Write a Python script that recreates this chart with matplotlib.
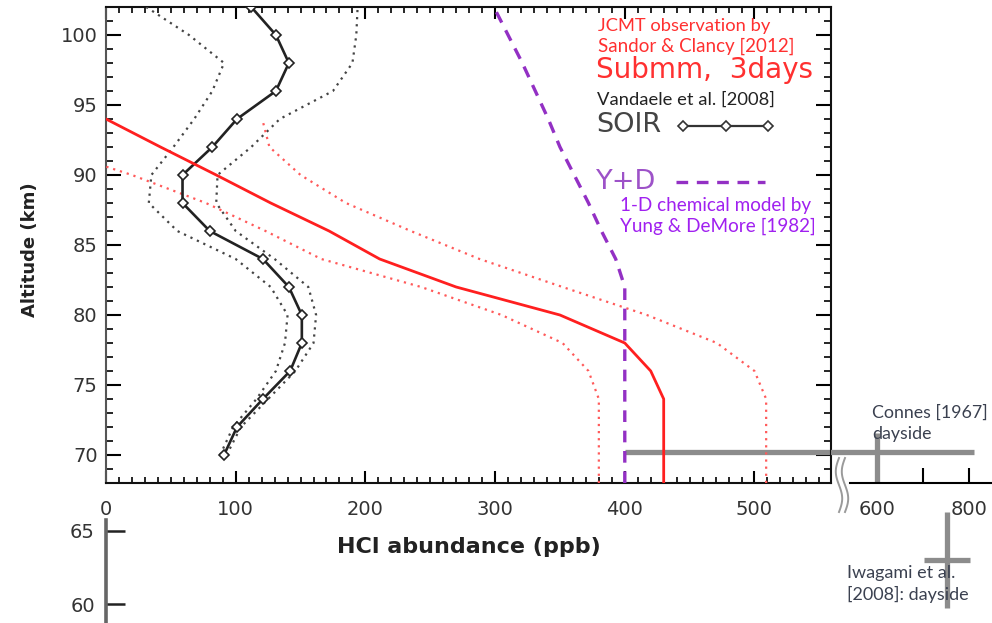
import numpy as np
import matplotlib
matplotlib.use('Agg')
import matplotlib.pyplot as plt
from matplotlib.lines import Line2D
from matplotlib.ticker import MultipleLocator, FixedLocator

# ---------------- data ----------------
soir_alt  = [70, 72, 74, 76, 78, 80, 82, 84, 86, 88, 90, 92, 94, 96, 98, 100, 102]
soir_hcl  = [91, 101, 121, 142, 151, 151, 141, 121, 80, 59, 59, 82, 101, 131, 141, 131, 112]
soir_low  = [88, 98, 116, 131, 138, 140, 127, 100, 55, 33, 35, 52, 68, 82, 91, 64, 31]
soir_high = [93, 104, 125, 146, 160, 162, 156, 130, 100, 85, 86, 112, 134, 175, 190, 193, 194]

submm_alt = [68, 74, 76, 78, 80, 82, 84, 86, 88, 90, 92, 94]
submm_hcl = [430, 430, 420, 400, 350, 270, 211, 172, 127, 85, 42, 0]
submm_low_alt = [68, 74, 76, 78, 80, 82, 84, 86, 88, 90, 90.6]
submm_low = [380, 380, 372, 352, 305, 243, 166, 123, 77, 20, 0]
submm_high_alt = [68, 74, 76, 78, 80, 82, 84, 86, 88, 90, 92, 93.8]
submm_high = [509, 509, 500, 471, 417, 352, 288, 235, 185, 150, 126, 121]

yd_alt = [68, 82, 84, 86, 88, 90, 92, 94, 96, 98, 100, 102]
yd_hcl = [400, 400, 393, 382, 372, 361, 350, 341, 331, 321, 310, 299]

connes_hcl = 600
connes_alt = 70.2
connes_hcl_range = [400, 810]
connes_alt_range = [68, 71.6]

iwagami_hcl = 752
iwagami_alt = 63.0
iwagami_hcl_range = [702, 802]
iwagami_alt_range = [59.7, 66.3]

x_major = [0, 100, 200, 300, 400, 500]
x_ext_ticks = [600, 700, 800]
x_ext_labels = ['600', '', '800']
y_major = [70, 75, 80, 85, 90, 95, 100]
y_low_ticks = [60, 65]

# ---------------- figure ----------------
W, H = 992, 623
fig = plt.figure(figsize=(W / 100, H / 100), dpi=100)
fig.patch.set_facecolor('white')


def fx(px):
    return px / W


def fy(py):
    return 1 - py / H


def box(x0, y0, x1, y1):
    return [fx(x0), fy(y1), fx(x1) - fx(x0), fy(y0) - fy(y1)]


RED = '#ff1f1f'
RED_L = '#ff5a5a'
PURPLE = '#9330c4'
GRAY = '#8c8c8c'
TXT = '#333333'

ax = fig.add_axes(box(106, 7, 831, 483))
ax.set_xlim(0, 559)
ax.set_ylim(68, 102)

# SOIR
ax.plot(soir_low, soir_alt, color='#444444', lw=1.6, ls=(0, (1, 2.2)), zorder=3)
ax.plot(soir_high, soir_alt, color='#444444', lw=1.6, ls=(0, (1, 2.2)), zorder=3)
ax.plot(soir_hcl, soir_alt, color='#222222', lw=1.9, marker='D', ms=5,
        mfc='white', mec='#222222', mew=1.2, zorder=4)

# Submm
ax.plot(submm_low, submm_low_alt, color=RED_L, lw=1.6, ls=(0, (1, 2.2)), zorder=3)
ax.plot(submm_high, submm_high_alt, color=RED_L, lw=1.6, ls=(0, (1, 2.2)), zorder=3)
ax.plot(submm_hcl, submm_alt, color=RED, lw=2.0, zorder=4)

# Y+D model
ax.plot(yd_hcl, yd_alt, color=PURPLE, lw=2.4, ls=(0, (3.5, 2.6)), zorder=3)

# Connes (part inside main axes)
ax.plot(connes_hcl_range, [connes_alt, connes_alt], color=GRAY, lw=3.8,
        solid_capstyle='butt', zorder=2)

ax.xaxis.set_major_locator(FixedLocator(x_major))
ax.xaxis.set_minor_locator(MultipleLocator(10))
ax.yaxis.set_major_locator(FixedLocator(y_major))
ax.yaxis.set_minor_locator(MultipleLocator(1))
ax.tick_params(which='both', direction='in', top=True, right=True,
               labeltop=False, labelright=False, colors='black', labelcolor=TXT)
ax.tick_params(axis='x', which='major', length=8.5, width=1.5, labelsize=14, pad=12)
ax.tick_params(axis='x', which='minor', length=4, width=1.2)
ax.tick_params(axis='y', which='major', length=11, width=1.5, labelsize=14, pad=6)
ax.tick_params(axis='y', which='minor', length=5, width=1.2)
for s in ax.spines.values():
    s.set_linewidth(1.5)
    s.set_color('#111111')
ax.spines['left'].set_color('#555555')

ax.set_xlabel('HCl abundance (ppb)', fontsize=16, fontweight='bold', color='#222222')
ax.xaxis.set_label_coords(0.5, (483 - 547) / 476)
ax.xaxis.label.set_va('center')
ax.set_ylabel('Altitude (km)', fontsize=13, fontweight='bold', color='#222222')
ax.yaxis.set_label_coords((30 - 106) / 725, (483 - 250) / 476)
ax.yaxis.label.set_va('center')

# ---------------- broken extension axis (600-800 ppb) ----------------
axb = fig.add_axes(box(831, 7, 992, 483))
axb.set_xlim(500, 850)
axb.set_ylim(68, 102)
axb.patch.set_visible(False)
for k in ['top', 'left', 'right']:
    axb.spines[k].set_visible(False)
axb.spines['bottom'].set_bounds(541, 850)
axb.spines['bottom'].set_linewidth(1.5)
axb.set_yticks([])
axb.set_xticks(x_ext_ticks)
axb.set_xticklabels(x_ext_labels)
axb.tick_params(axis='x', direction='in', length=11, width=1.5, labelsize=14,
                pad=12, labelcolor=TXT)
axb.plot(connes_hcl_range, [connes_alt, connes_alt], color=GRAY, lw=3.8,
         solid_capstyle='butt', zorder=2)
axb.plot([connes_hcl, connes_hcl], connes_alt_range, color=GRAY, lw=3.8,
         solid_capstyle='butt', zorder=2)

# ---------------- lower region: Iwagami + extra altitude axis ----------------
axi = fig.add_axes(box(831, 483, 992, 623))
axi.set_xlim(500, 850)
axi.set_ylim(58.70, 68.29)
axi.axis('off')
axi.plot(iwagami_hcl_range, [iwagami_alt, iwagami_alt], color=GRAY, lw=3.8,
         solid_capstyle='butt', zorder=3)
axi.plot([iwagami_hcl, iwagami_hcl], iwagami_alt_range, color=GRAY, lw=3.8,
         solid_capstyle='butt', zorder=3)

axl = fig.add_axes(box(106, 520, 160, 623))
axl.set_ylim(58.70, 65.75)
axl.patch.set_visible(False)
for k in ['top', 'bottom', 'right']:
    axl.spines[k].set_visible(False)
axl.spines['left'].set_color('#666666')
axl.spines['left'].set_linewidth(2.6)
axl.set_xticks([])
axl.set_yticks(y_low_ticks)
axl.tick_params(axis='y', direction='in', length=14, width=1.8, labelsize=14,
                pad=8, colors='#222222', labelcolor=TXT)

# ---------------- axis-break symbol ----------------
t = np.linspace(0, 1, 60)
for off in (0, 6):
    xs = 839 + off - 3.2 * np.sin(2 * np.pi * t)
    ys = 458 + 54 * t
    fig.add_artist(Line2D(fx(xs), fy(ys), color='#9a9a9a', lw=1.4))

# ---------------- annotations / legend ----------------
def ftext(px, py, s, **kw):
    kw.setdefault('va', 'center')
    kw.setdefault('ha', 'left')
    fig.text(fx(px), fy(py), s, **kw)


cal = 'Lato'
ftext(598, 26, 'JCMT observation by', color='#ff3030', fontsize=13.2, family=cal)
ftext(598, 46, 'Sandor & Clancy [2012]', color='#ff3030', fontsize=13.5, family=cal)
ftext(596, 70, 'Submm,  3days', color='#ff3030', fontsize=20, family='DejaVu Sans')
ftext(597, 100, 'Vandaele et al. [2008]', color='#222222', fontsize=13.2, family=cal)
ftext(596, 125, 'SOIR', color='#444444', fontsize=19.5, family='DejaVu Sans')
fig.add_artist(Line2D([fx(683), fx(725.5), fx(768)], [fy(126)] * 3, color='#333333',
                      lw=1.6, marker='D', ms=5, mfc='white', mec='#333333', mew=1.2))
ftext(596, 182, 'Y+D', color='#9d52c8', fontsize=19.5, family='DejaVu Sans')
fig.add_artist(Line2D([fx(676), fx(765)], [fy(182)] * 2, color=PURPLE, lw=2.4,
                      ls=(0, (3.5, 2.6))))
ftext(620, 205, '1-D chemical model by', color='#a020f0', fontsize=13.6, family=cal)
ftext(620, 226, 'Yung & DeMore [1982]', color='#a020f0', fontsize=13.6, family=cal)

ftext(872, 413, 'Connes [1967]', color='#3b4150', fontsize=12.8, family=cal)
ftext(872, 434, 'dayside', color='#3b4150', fontsize=12.8, family=cal)
ftext(847, 573, 'Iwagami et al.', color='#3b4150', fontsize=13, family=cal)
ftext(847, 594, '[2008]: dayside', color='#3b4150', fontsize=13, family=cal)

fig.savefig('out.png', dpi=100)
